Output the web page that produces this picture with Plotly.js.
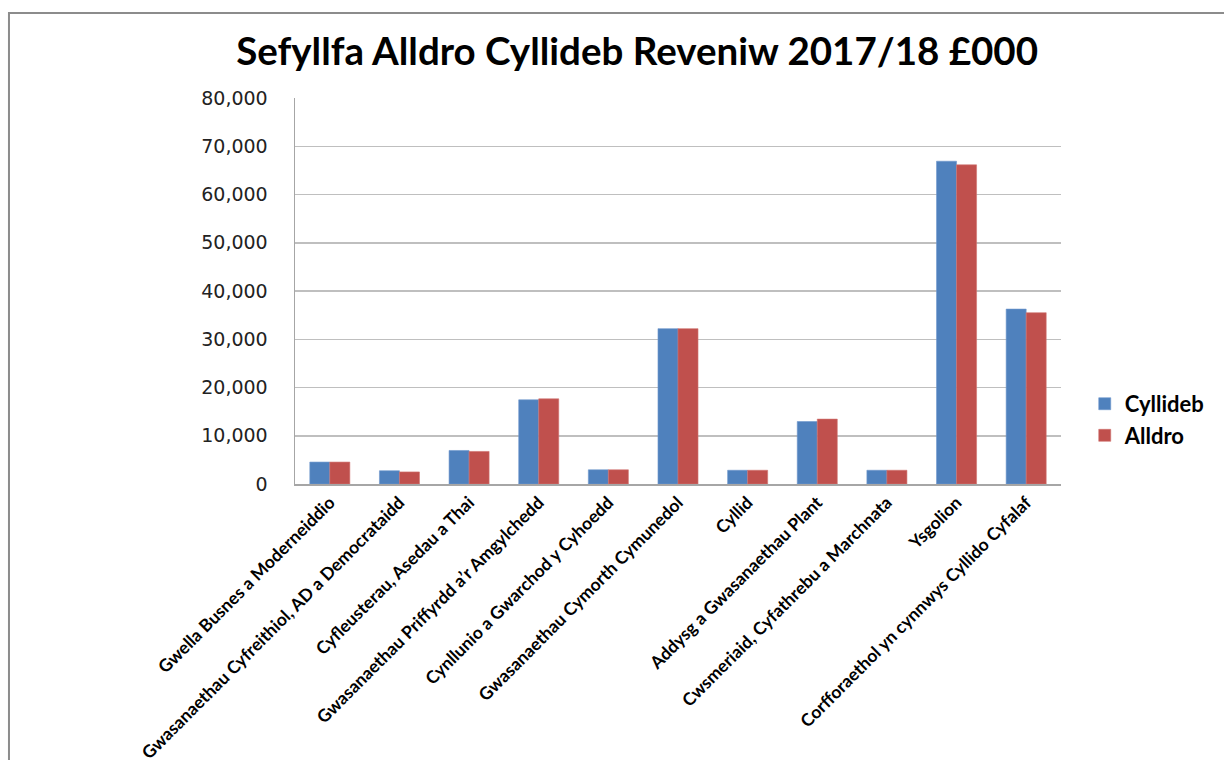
<!DOCTYPE html>
<html>
<head>
<meta charset="utf-8">
<script src="https://cdn.plot.ly/plotly-3.0.1.min.js"></script>
<style>html,body{margin:0;padding:0;background:#fff;}#chart{width:1224px;height:760px;}</style>
</head>
<body>
<div id="chart"></div>
<script>
const categories = [
  "Gwella Busnes a Moderneiddio",
  "Gwasanaethau Cyfreithiol, AD a Democrataidd",
  "Cyfleusterau, Asedau a Thai",
  "Gwasanaethau Priffyrdd a\u2019r Amgylchedd",
  "Cynllunio a Gwarchod y Cyhoedd",
  "Gwasanaethau Cymorth Cymunedol",
  "Cyllid",
  "Addysg a Gwasanaethau Plant",
  "Cwsmeriaid, Cyfathrebu a Marchnata",
  "Ysgolion",
  "Corfforaethol yn cynnwys Cyllido Cyfalaf"
];
const cyllideb = [4550, 2750, 6950, 17450, 2950, 32200, 2850, 12950, 2850, 66900, 36250];
const alldro   = [4550, 2500, 6750, 17650, 2950, 32200, 2850, 13450, 2850, 66150, 35500];
const yTicks = [0, 10000, 20000, 30000, 40000, 50000, 60000, 70000, 80000];
const yTickLabels = ["0", "10,000", "20,000", "30,000", "40,000", "50,000", "60,000", "70,000", "80,000"];

const traces = [
  {type: 'bar', name: 'Cyllideb', x: categories, y: cyllideb,
   marker: {color: '#4F81BD', line: {color: '#6E97CC', width: 0.6}}},
  {type: 'bar', name: 'Alldro', x: categories, y: alldro,
   marker: {color: '#C0504D', line: {color: '#D07371', width: 0.6}}}
];

const layout = {
  width: 1224, height: 760,
  paper_bgcolor: '#ffffff', plot_bgcolor: '#ffffff',
  margin: {l: 295, r: 163, t: 98, b: 276},
  barmode: 'group', bargap: 0.425, bargroupgap: 0,
  title: {text: 'Sefyllfa Alldro Cyllideb Reveniw 2017/18 £000',
          font: {family: 'Lato', size: 38.5, color: '#000', weight: 'bold'},
          x: 0.5205, xanchor: 'center', xref: 'container', y: 0.932, yanchor: 'middle', yref: 'container'},
  xaxis: {type: 'category', tickangle: -45, showgrid: false,
          showline: true, linecolor: '#a6a6a6', linewidth: 1.5,
          ticks: '', automargin: false,
          tickfont: {family: 'Lato', size: 17.5, color: '#000', weight: 'bold'}},
  yaxis: {range: [0, 80000], tickvals: yTicks, ticktext: yTickLabels,
          showgrid: true, gridcolor: '#bfbfbf', gridwidth: 1.5,
          showline: true, linecolor: '#a6a6a6', linewidth: 1.5,
          ticks: '', ticklen: 0, zeroline: false, automargin: false,
          ticklabelstandoff: 22,
          tickfont: {family: 'DejaVu Sans', size: 19, color: '#222'}},
  legend: {x: 1.031, xanchor: 'left', y: 0.166, yanchor: 'middle',
           font: {family: 'Lato', size: 22, color: '#000', weight: 'bold'},
           tracegroupgap: 10, itemwidth: 30},
  showlegend: true,
  shapes: [{type: 'rect', xref: 'paper', yref: 'paper',
            x0: -0.3734, x1: 1.3, y0: -0.9, y1: 1.2202,
            line: {color: '#8c8c8c', width: 2}, fillcolor: 'rgba(0,0,0,0)', layer: 'below'}]
};

Plotly.newPlot('chart', traces, layout, {displayModeBar: false, staticPlot: true});
</script>
</body>
</html>
